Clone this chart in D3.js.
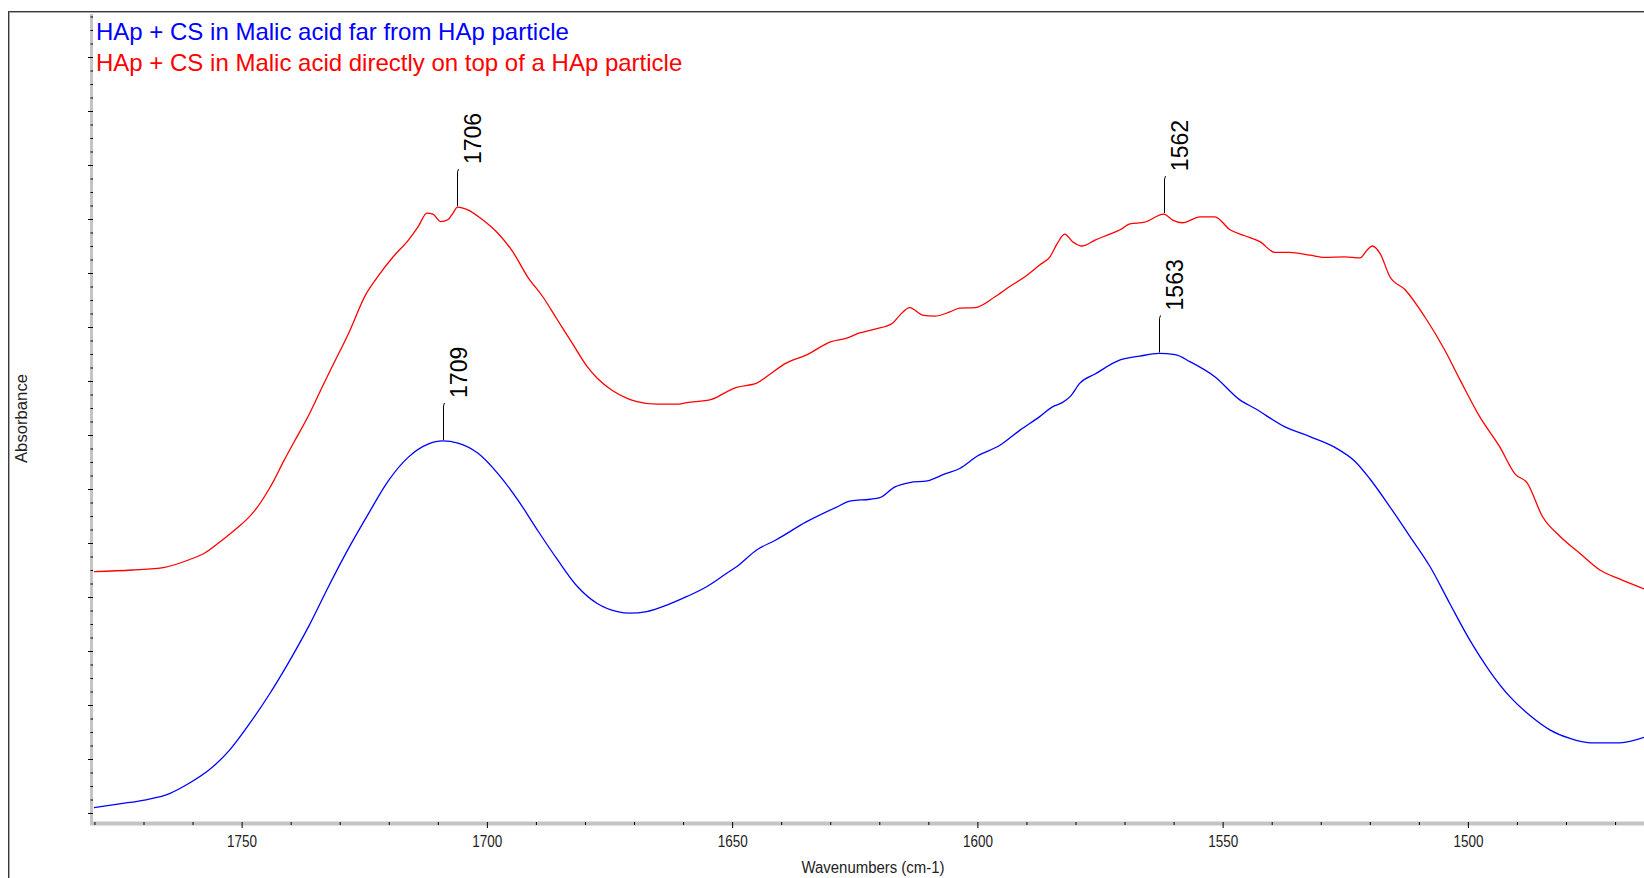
<!DOCTYPE html>
<html><head><meta charset="utf-8">
<script src="https://cdn.jsdelivr.net/npm/d3@7"></script>
<style>html,body{margin:0;padding:0;background:#fff;overflow:hidden}</style>
</head><body>
<svg id="chart" width="1644" height="878"></svg>
<script>
// ---------- data ----------
const blueWavenumbers = [1780.1,1774.9,1769.8,1764.7,1760.7,1756.6,1752.5,1748.5,1744.4,1740.4,1736.3,1732.3,1728.2,1724.1,1720.1,1716.0,1712.0,1709.0,1705.9,1701.8,1697.8,1693.7,1689.7,1685.6,1681.5,1677.5,1673.4,1670.9,1667.4,1663.3,1659.2,1655.2,1651.1,1649.1,1645.0,1641.0,1634.9,1628.8,1625.8,1621.9,1619.9,1616.8,1613.8,1610.2,1606.6,1603.6,1600.0,1595.4,1591.3,1587.3,1584.7,1582.7,1581.1,1579.1,1576.0,1570.9,1566.9,1563.0,1559.7,1556.7,1551.6,1546.5,1543.4,1537.3,1532.2,1527.1,1523.0,1520.0,1515.9,1511.8,1507.7,1503.7,1499.6,1495.5,1491.4,1487.4,1483.3,1479.2,1475.1,1469.0,1464.1];
const blueAbsorbance = [0.010,0.017,0.024,0.036,0.055,0.080,0.116,0.164,0.219,0.279,0.346,0.419,0.490,0.555,0.615,0.659,0.683,0.689,0.685,0.666,0.629,0.580,0.524,0.469,0.419,0.388,0.373,0.370,0.373,0.385,0.401,0.419,0.444,0.456,0.487,0.506,0.539,0.566,0.578,0.581,0.584,0.604,0.612,0.615,0.628,0.638,0.661,0.681,0.709,0.734,0.752,0.760,0.771,0.796,0.813,0.839,0.846,0.851,0.849,0.836,0.808,0.765,0.749,0.715,0.697,0.677,0.651,0.619,0.567,0.512,0.456,0.388,0.320,0.262,0.215,0.181,0.154,0.138,0.130,0.130,0.140];

const redWavenumbers = [1780.1,1772.3,1765.7,1760.7,1757.6,1753.6,1750.5,1748.5,1747.5,1744.4,1743.4,1741.4,1739.3,1736.3,1733.3,1731.3,1728.2,1724.7,1722.1,1719.1,1716.0,1714.0,1712.2,1711.0,1709.4,1707.9,1706.9,1706.0,1703.9,1700.8,1697.8,1694.7,1691.7,1688.6,1685.6,1682.6,1679.5,1677.5,1674.5,1671.4,1669.4,1665.3,1661.3,1659.2,1654.2,1651.1,1649.1,1645.0,1643.0,1639.0,1634.9,1629.8,1626.8,1624.0,1620.9,1617.3,1615.8,1613.8,1611.2,1608.7,1605.6,1603.6,1600.5,1596.4,1593.4,1590.3,1587.3,1585.2,1583.7,1582.2,1580.6,1578.6,1576.0,1573.0,1570.9,1568.9,1565.9,1562.0,1560.2,1558.2,1554.6,1551.6,1548.5,1545.5,1542.4,1539.3,1536.3,1532.2,1529.2,1525.1,1522.0,1520.5,1519.5,1517.9,1515.9,1512.8,1508.8,1504.7,1501.6,1497.6,1493.5,1490.4,1487.9,1484.8,1481.2,1477.2,1473.1,1469.0,1464.1];
const redAbsorbance = [0.447,0.450,0.455,0.469,0.481,0.508,0.531,0.548,0.558,0.600,0.616,0.652,0.687,0.737,0.794,0.831,0.888,0.960,0.995,1.030,1.061,1.086,1.111,1.109,1.095,1.099,1.111,1.122,1.117,1.098,1.074,1.039,0.993,0.956,0.913,0.870,0.826,0.805,0.783,0.768,0.762,0.757,0.757,0.760,0.766,0.780,0.788,0.796,0.808,0.833,0.848,0.873,0.879,0.889,0.896,0.907,0.922,0.936,0.922,0.920,0.928,0.935,0.936,0.956,0.975,0.993,1.015,1.030,1.055,1.072,1.058,1.050,1.061,1.072,1.080,1.091,1.094,1.109,1.098,1.093,1.104,1.104,1.080,1.069,1.058,1.038,1.038,1.033,1.029,1.030,1.028,1.043,1.050,1.036,0.993,0.969,0.919,0.857,0.802,0.734,0.678,0.628,0.611,0.549,0.512,0.481,0.450,0.433,0.415];

const bluePeaks = [1709, 1563];
const redPeaks = [1706, 1562];
const xMajorTicks = [1750, 1700, 1650, 1600, 1550, 1500];
const seriesNames = ["HAp + CS in Malic acid far from HAp particle",
                     "HAp + CS in Malic acid directly on top of a HAp particle"];
const seriesColors = ["#0000ff", "#ff0000"];
const xTitle = "Wavenumbers (cm-1)";
const yTitle = "Absorbance";

// ---------- layout ----------
const W = 1644, H = 878;
const plotLeft = 92, plotRight = 1644, plotTop = 14, plotBottom = 823;
const svg = d3.select("#chart");

const x = d3.scaleLinear().domain([1780.5, 1464.1]).range([plotLeft, plotRight]);
const y = d3.scaleLinear().domain([-0.0185, 1.4796]).range([plotBottom, plotTop]);

// window-like frame
svg.append("line").attr("x1", 8).attr("x2", W).attr("y1", 11.5).attr("y2", 11.5).attr("stroke", "#3a3a3a").attr("stroke-width", 1);
svg.append("line").attr("x1", 8).attr("x2", W).attr("y1", 12.5).attr("y2", 12.5).attr("stroke", "#a8a8a8").attr("stroke-width", 1);
svg.append("line").attr("x1", 8.5).attr("x2", 8.5).attr("y1", 11).attr("y2", H).attr("stroke", "#3a3a3a").attr("stroke-width", 1);
svg.append("line").attr("x1", 9.5).attr("x2", 9.5).attr("y1", 12).attr("y2", H).attr("stroke", "#a8a8a8").attr("stroke-width", 1);

// axis bands (grey)
svg.append("rect").attr("x", plotLeft - 2).attr("y", plotTop).attr("width", 3).attr("height", plotBottom - plotTop + 2).attr("fill", "#c4c4c4");
svg.append("rect").attr("x", plotLeft - 2).attr("y", plotBottom - 1.5).attr("width", plotRight - plotLeft + 2).attr("height", 4).attr("fill", "#c4c4c4");

const fontTick = "'Liberation Sans Narrow','Arial Narrow','Liberation Sans',Arial,sans-serif";

// x axis: minor ticks
const xMinor = d3.range(1780, 1460, -10).filter(v => !xMajorTicks.includes(v));
const gxMinor = svg.append("g").attr("transform", `translate(0,${plotBottom - 1})`)
  .call(d3.axisBottom(x).tickValues(xMinor).tickSize(3).tickSizeOuter(0).tickFormat(""));
gxMinor.select(".domain").remove();
gxMinor.selectAll(".tick line").attr("stroke", "#000");

const gx = svg.append("g").attr("transform", `translate(0,${plotBottom - 1})`)
  .call(d3.axisBottom(x).tickValues(xMajorTicks).tickSize(6).tickSizeOuter(0).tickFormat(d3.format("d")));
gx.select(".domain").remove();
gx.selectAll(".tick line").attr("stroke", "#000");
gx.selectAll(".tick text")
  .attr("y", 25).attr("dy", 0)
  .attr("fill", "#222")
  .style("font-family", fontTick).style("font-size", "16px")
  .attr("textLength", 30).attr("lengthAdjust", "spacingAndGlyphs");

// y axis
const yMajor = d3.range(0, 14.5, 1).map(d => d / 10);
const yMinor = d3.range(0, 60, 1).map(d => d * 0.025).filter(v => v <= 1.4796 && Math.abs(v * 10 - Math.round(v * 10)) > 1e-6);
const gyMinor = svg.append("g").attr("transform", `translate(${plotLeft + 1},0)`)
  .call(d3.axisLeft(y).tickValues(yMinor).tickSize(2.5).tickSizeOuter(0).tickFormat(""));
gyMinor.select(".domain").remove();
gyMinor.selectAll(".tick line").attr("stroke", "#000");
const gy = svg.append("g").attr("transform", `translate(${plotLeft + 1},0)`)
  .call(d3.axisLeft(y).tickValues(yMajor).tickSize(5).tickSizeOuter(0).tickFormat(""));
gy.select(".domain").remove();
gy.selectAll(".tick line").attr("stroke", "#000");

// axis titles
svg.append("text").attr("x", (plotLeft + plotRight) / 2 + 5).attr("y", 873)
  .attr("text-anchor", "middle").attr("fill", "#222")
  .style("font-family", fontTick).style("font-size", "16px")
  .attr("textLength", 143).attr("lengthAdjust", "spacingAndGlyphs")
  .text(xTitle);
svg.append("text").attr("transform", `translate(27,${(plotTop + plotBottom) / 2}) rotate(-90)`)
  .attr("text-anchor", "middle").attr("fill", "#222")
  .style("font-family", fontTick).style("font-size", "16px")
  .attr("textLength", 89).attr("lengthAdjust", "spacingAndGlyphs")
  .text(yTitle);

// spectra
const line = d3.line().x(d => x(d[0])).y(d => y(d[1])).curve(d3.curveMonotoneX);
const blueData = blueWavenumbers.map((v, i) => [v, blueAbsorbance[i]]);
const redData = redWavenumbers.map((v, i) => [v, redAbsorbance[i]]);
svg.append("clipPath").attr("id", "plotclip").append("rect")
  .attr("x", plotLeft).attr("y", plotTop).attr("width", plotRight - plotLeft).attr("height", plotBottom - plotTop - 2);
svg.append("path").datum(blueData).attr("d", line).attr("fill", "none")
  .attr("stroke", seriesColors[0]).attr("stroke-width", 1.3).attr("clip-path", "url(#plotclip)");
svg.append("path").datum(redData).attr("d", line).attr("fill", "none")
  .attr("stroke", seriesColors[1]).attr("stroke-width", 1.3).attr("clip-path", "url(#plotclip)");

// peak labels
function peakValue(data, v) {
  let best = data[0];
  data.forEach(d => { if (Math.abs(d[0] - v) < Math.abs(best[0] - v)) best = d; });
  return best[1];
}
function drawPeak(data, v) {
  const px = Math.round(x(v)) + 0.5;
  const py = y(peakValue(data, v)) - 1;
  const top = py - 37;
  svg.append("path").attr("d", `M${px},${py}V${top + 3}L${px + 1},${top}`)
    .attr("fill", "none").attr("stroke", "#000").attr("stroke-width", 1);
  svg.append("text").attr("transform", `translate(${px + 23},${top - 5}) rotate(-90)`)
    .attr("text-anchor", "start").attr("fill", "#000")
    .style("font-family", "'Liberation Sans',Arial,sans-serif").style("font-size", "23px")
    .text(String(v));
}
bluePeaks.forEach(v => drawPeak(blueData, v));
redPeaks.forEach(v => drawPeak(redData, v));

// legend
seriesNames.forEach((name, i) => {
  svg.append("text").attr("x", 96).attr("y", 40 + i * 30.5)
    .attr("fill", seriesColors[i])
    .style("font-family", "'Liberation Sans',Arial,sans-serif").style("font-size", "24px")
    .text(name);
});
</script>
</body></html>
